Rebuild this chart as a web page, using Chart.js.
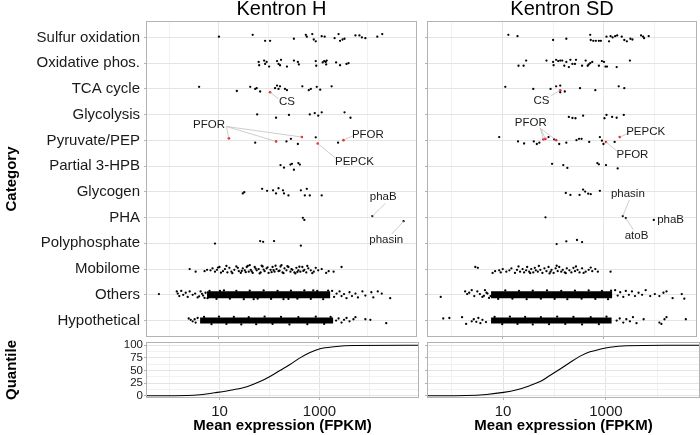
<!DOCTYPE html>
<html><head><meta charset="utf-8">
<script src="https://cdn.jsdelivr.net/npm/chart.js@4.4.1/dist/chart.umd.min.js"></script>
<style>
html,body{margin:0;padding:0;background:#fff;}
#wrap{position:relative;width:700px;height:435px;overflow:hidden;background:#fff;}
#wrap canvas{position:absolute;}
</style></head><body>
<div id="wrap">
<canvas id="cH" width="420" height="340" style="left:0;top:0"></canvas>
<canvas id="cSD" width="280" height="340" style="left:420px;top:0"></canvas>
<canvas id="qH" width="420" height="95" style="left:0;top:340px"></canvas>
<canvas id="qSD" width="280" height="95" style="left:420px;top:340px"></canvas>
</div>
<script>
// ---------------- DATA (x values are log10 of mean FPKM; second value = vertical jitter) ----------------
const categories = ['Sulfur oxidation','Oxidative phos.','TCA cycle','Glycolysis','Pyruvate/PEP','Partial 3-HPB','Glycogen','PHA','Polyphosphate','Mobilome','Others','Hypothetical'];
const panelTitles = ['Kentron H', 'Kentron SD'];
const xMajorTicks = [1, 3];
const xMajorLabels = ['10', '1000'];
const xMinorTicks = [0, 2, 4];
const quantileTicks = [0, 25, 50, 75, 100];
const quantileMinorTicks = [12.5, 37.5, 62.5, 87.5];

// ---- Kentron H ----
const H_sulfur = [[1.00,-0.03],[1.68,-0.10],[1.93,0.13],[2.03,0.13],[2.51,0.05],[2.75,-0.10],[2.77,-0.03],[2.88,-0.13],[2.91,0.08],[2.95,0.15],[3.07,-0.05],[3.13,-0.03],[3.33,0.03],[3.41,-0.13],[3.44,0.13],[3.49,0.08],[3.53,0.05],[3.75,-0.08],[3.83,-0.08],[3.88,0],[3.95,0.03],[4.19,-0.03],[4.29,-0.13]];
const H_oxphos = [[1.80,-0.05],[1.81,0.08],[1.91,-0.10],[1.93,0.03],[1.96,-0.05],[2.01,0.13],[2.17,-0.08],[2.20,0.03],[2.23,0.08],[2.25,-0.13],[2.37,0.13],[2.51,-0.10],[2.59,-0.05],[2.61,0.05],[2.95,-0.08],[2.96,0.10],[3.09,-0.03],[3.12,-0.08],[3.15,-0.05],[3.16,0.05],[3.17,-0.10],[3.36,-0.03],[3.44,0.08],[3.57,0.03],[3.61,0]];
const H_tca = [[0.60,-0.08],[1.36,0.08],[1.63,-0.08],[1.73,0],[1.76,-0.03],[1.83,0.10],[2.13,-0.03],[2.17,-0.13],[2.20,0],[2.23,-0.10],[2.33,0],[2.37,0.05],[2.68,-0.10],[2.81,0.05],[2.85,0],[2.97,-0.08],[3.04,0.03],[3.27,-0.10]];
const H_glycolysis = [[1.77,-0.01],[2.15,0.12],[2.41,0.01],[2.83,-0.01],[2.93,-0.06],[3.00,0.04],[3.07,-0.09],[3.53,-0.09],[3.65,0.12]];
const H_pyruvate = [[1.73,0.09],[2.36,0.04],[2.45,-0.06],[2.59,0.14],[2.95,-0.12],[3.40,0.09]];
const H_hpb = [[2.24,-0.04],[2.31,0.06],[2.44,-0.06],[2.47,-0.09],[2.51,0.14],[2.60,-0.12],[2.63,-0.06]];
const H_glycogen = [[1.48,0.06],[1.51,0.01],[1.87,-0.12],[1.97,-0.04],[2.09,-0.06],[2.15,0.06],[2.20,-0.14],[2.29,-0.06],[2.31,0.06],[2.40,0.14],[2.65,-0.06],[2.73,0.14],[2.77,-0.12],[2.83,0.14],[3.07,0.14]];
const H_pha = [[2.69,0.01],[2.72,0.09],[4.09,-0.06],[4.72,0.14]];
const H_polyP = [[0.92,0.01],[1.83,-0.09],[1.89,-0.06],[2.11,-0.09],[2.65,0.09]];
const H_mobilome = [[0.41,0],[0.53,0.10],[0.71,0.08],[0.76,0.03],[0.83,0.05],[0.87,-0.03],[0.92,0.10],[0.96,0.03],[1.01,-0.08],[1.08,0.08],[1.12,0],[1.17,0.13],[1.21,-0.05],[1.25,0.10],[1.31,0.03],[1.35,-0.10],[1.40,0.08],[1.44,0.15],[1.48,-0.03],[1.52,0.05],[1.56,-0.08],[1.60,0.10],[1.64,0.03],[1.68,0.15],[1.72,-0.08],[1.76,0.05],[1.80,0],[1.84,0.13],[1.88,-0.10],[1.92,0.08],[1.96,-0.03],[2.00,0.15],[2.04,0.03],[2.08,-0.08],[2.12,0.10],[2.16,0],[2.20,0.08],[2.24,-0.10],[2.28,0.13],[2.32,-0.03],[2.36,0.05],[2.40,-0.08],[2.44,0.10],[2.48,0.03],[2.52,0.13],[2.56,-0.05],[2.60,0.05],[2.64,0.10],[2.68,-0.08],[2.72,0.03],[2.76,0.13],[2.80,-0.03],[2.85,0.05],[2.91,0.10],[3.00,0.05],[3.07,0],[3.16,0.15],[3.21,0.08],[3.31,0.10],[3.47,-0.08],[1.15,-0.12],[1.27,0.16],[1.38,-0.05],[1.46,0.07],[1.58,-0.12],[1.66,0.09],[1.74,-0.02],[1.82,0.17],[1.90,0.02],[1.98,-0.07],[2.06,0.12],[2.14,-0.13],[2.22,0.06],[2.30,0.16],[2.38,-0.11],[2.46,0.0],[2.54,0.17],[2.62,-0.09],[2.70,0.07],[2.78,-0.12],[2.88,0.16],[2.95,-0.05],[1.04,0.14],[0.98,-0.06],[1.62,-0.15],[2.26,-0.15],[2.58,0.11],[2.10,0.04],[1.54,0.12],[1.86,-0.13]];
const H_others = [[-0.21,-0.03],[0.15,-0.13],[0.17,-0.05],[0.20,0.05],[0.24,-0.15],[0.28,0],[0.33,-0.08],[0.37,0.08],[0.41,-0.13],[0.47,0],[0.52,-0.05],[0.57,0.10],[0.63,-0.13],[0.68,0.03],[0.73,-0.08],[0.77,0.13],[0.81,-0.15],[3.28,-0.15],[3.32,0.08],[3.37,-0.05],[3.43,-0.13],[3.47,0.05],[3.52,-0.03],[3.57,0.13],[3.63,-0.10],[3.68,0.05],[3.75,-0.05],[3.80,0.10],[3.89,-0.13],[3.95,0.03],[4.07,-0.10],[4.11,0.10],[4.20,-0.13],[4.28,-0.05],[4.45,0.13],
  [0.95,0.16],[1.10,-0.17],[1.22,0.15],[1.35,-0.15],[1.50,0.17],[1.62,-0.16],[1.78,0.15],[1.90,-0.17],[2.05,0.16],[2.18,-0.15],[2.30,0.17],[2.45,-0.16],[2.58,0.15],[2.72,-0.17],[2.85,0.16],[2.98,-0.15],[3.10,0.17],[3.20,-0.16],[1.02,-0.15],[1.70,0.17],[2.40,0.16],[2.90,-0.17],
  [0.60,0.06],[0.66,-0.04],[0.71,0.12],[0.79,0.02]];
const H_hyp = [[0.39,-0.08],[0.43,-0.03],[0.47,0.03],[0.51,-0.05],[0.53,0.08],[0.57,-0.10],[3.36,0],[3.41,-0.08],[3.47,0.08],[3.52,-0.03],[3.57,-0.10],[3.63,0.03],[3.71,-0.05],[3.75,-0.13],[3.95,-0.05],[4.05,-0.03],[4.37,0.10],
  [0.70,-0.14],[0.85,0.14],[1.00,-0.15],[1.15,0.13],[1.30,-0.14],[1.45,0.15],[1.60,-0.13],[1.75,0.14],[1.92,-0.15],[2.08,0.13],[2.25,-0.14],[2.42,0.15],[2.60,-0.13],[2.78,0.14],[2.95,-0.15],[3.12,0.13],[3.25,-0.14]];
const H_coreOthers = [0.76, 3.24];   // dense core of the Others cloud
const H_coreHyp = [0.62, 3.30];      // dense core of the Hypothetical cloud
// highlighted (red) genes: [category index, log10 FPKM, jitter]
const H_red = [[2,2.03,0.13],[4,1.20,-0.08],[4,2.15,0.04],[4,2.67,-0.13],[4,2.99,0.12],[4,3.51,-0.01]];
const H_quantX = [-0.45,0.35,0.61,0.95,1.28,1.55,1.81,2.01,2.21,2.41,2.61,2.81,3.01,3.29,3.68,4.97];
const H_quantY = [0,0.5,2,6.6,12,18,28,38,50,62,75,85.5,93,97,99.5,100];

// ---- Kentron SD ----
const SD_sulfur = [[1.12,-0.10],[1.30,-0.05],[2.00,0.10],[2.26,0.05],[2.73,-0.10],[2.74,0.10],[2.79,0.13],[2.84,0.13],[2.90,0.13],[2.94,0.13],[3.05,-0.03],[3.10,0.15],[3.13,-0.05],[3.17,0],[3.22,-0.05],[3.26,-0.08],[3.35,-0.03],[3.40,0.10],[3.45,0.15],[3.52,0.05],[3.56,0.08],[3.73,-0.08],[3.77,-0.03],[3.79,0.03],[3.88,-0.05]];
const SD_oxphos = [[1.32,0.10],[1.42,0.10],[1.47,-0.10],[1.87,-0.10],[2.00,-0.05],[2.01,0.08],[2.06,-0.13],[2.10,-0.08],[2.14,-0.10],[2.18,-0.10],[2.22,0.10],[2.26,-0.05],[2.31,0.15],[2.34,-0.13],[2.38,0.03],[2.43,0.03],[2.45,-0.13],[2.57,0.10],[2.64,-0.10],[2.68,0.10],[2.70,0.05],[2.73,0],[2.77,-0.05],[2.90,0.10],[2.96,-0.08],[3.00,-0.05],[3.03,0.13],[3.06,0.13],[3.25,0.15],[3.51,-0.10]];
const SD_tca = [[1.06,-0.08],[1.61,0],[1.95,0],[2.06,-0.10],[2.14,-0.13],[2.14,0.13],[2.23,0.10],[2.53,-0.03],[2.83,0.05],[3.29,-0.10],[3.40,-0.03]];
const SD_glycolysis = [[2.31,0.09],[2.38,0.13],[2.44,0.14],[2.59,0.04],[3.01,0.14],[3.05,0.01],[3.16,0.09],[3.25,0.12],[3.39,0.01]];
const SD_pyruvate = [[0.94,-0.13],[1.31,0.04],[1.43,0.12],[1.62,0.04],[1.68,0.14],[1.73,0.09],[1.91,-0.13],[2.02,-0.04],[2.12,0.14],[2.26,0.09],[2.46,-0.01],[2.51,-0.06],[2.56,-0.06],[2.71,0.06],[2.92,-0.13],[2.96,0.01],[2.99,0.14],[3.21,0.06]];
const SD_hpb = [[1.98,-0.09],[2.20,-0.04],[2.28,0.07],[2.87,-0.12],[2.90,-0.07],[3.04,-0.04],[3.27,0.09]];
const SD_glycogen = [[2.25,0.04],[2.34,0.12],[2.52,0.12],[2.59,-0.09],[2.63,-0.01],[2.69,0.07],[2.74,0.09],[2.92,-0.04]];
const SD_pha = [[1.85,-0.01],[3.37,-0.06],[3.43,0.02],[3.98,0.09]];
const SD_polyP = [[2.07,0.03],[2.26,-0.08],[2.47,-0.13],[2.57,-0.05]];
const SD_mobilome = [[0.47,-0.08],[0.52,-0.05],[0.81,0.15],[0.86,0.08],[0.94,0.05],[0.97,0.13],[1.01,0],[1.08,0.10],[1.14,0.05],[1.18,-0.03],[1.25,0.15],[1.29,0.03],[1.35,0.10],[1.40,0],[1.43,0.13],[1.47,0.05],[1.49,-0.08],[1.53,0.10],[1.57,0],[1.61,0.13],[1.64,-0.05],[1.66,0.05],[1.70,0.10],[1.75,0.03],[1.79,0.15],[1.83,-0.03],[1.87,0.08],[1.91,-0.08],[1.95,0.10],[1.97,0.03],[2.01,0.15],[2.05,-0.03],[2.09,0.08],[2.12,-0.08],[2.16,0.10],[2.19,0.03],[2.23,0.13],[2.27,-0.03],[2.32,0.05],[2.36,0.13],[2.40,-0.05],[2.43,0.08],[2.48,0.03],[2.52,0.13],[2.57,-0.03],[2.64,0.10],[2.70,0.03],[2.77,0.08],[2.83,0],[2.88,0.10],[3.13,0.10],[1.32,-0.10],[1.55,0.16],[1.72,-0.12],[1.93,0.17],[2.07,-0.13],[2.25,0.16],[2.45,-0.10],[2.60,0.15],[2.74,-0.06]];
const SD_others = [[-0.21,0.08],[0.27,-0.13],[0.31,-0.03],[0.35,-0.08],[0.40,-0.18],[0.45,0.05],[0.51,-0.13],[0.56,-0.03],[0.61,0.08],[0.66,-0.18],[0.71,-0.05],[0.77,0.05],[3.22,-0.18],[3.27,0.03],[3.32,-0.10],[3.38,0.08],[3.43,-0.15],[3.49,0],[3.55,-0.13],[3.61,0.05],[3.68,-0.08],[3.75,0],[3.82,-0.18],[3.91,0.05],[4.00,-0.03],[4.09,0.05],[4.17,-0.08],[4.23,-0.13],[4.35,0.13],[4.53,-0.03],[4.58,0.15],
  [0.92,0.16],[1.06,-0.17],[1.20,0.15],[1.33,-0.15],[1.48,0.17],[1.60,-0.16],[1.76,0.15],[1.88,-0.17],[2.03,0.16],[2.16,-0.15],[2.28,0.17],[2.43,-0.16],[2.56,0.15],[2.70,-0.17],[2.83,0.16],[2.96,-0.15],[3.08,0.17],[3.14,-0.16],
  [0.64,0.04],[0.69,-0.08],[0.74,0.12]];
const SD_hyp = [[-0.16,-0.08],[-0.04,-0.10],[0.21,-0.13],[0.29,0.13],[0.40,0.03],[0.44,-0.05],[0.49,0.05],[0.53,-0.10],[0.57,0.10],[0.61,-0.03],[0.68,0.06],[3.25,0],[3.31,-0.08],[3.38,0.08],[3.44,-0.05],[3.51,0.03],[3.57,-0.13],[3.64,0.10],[3.78,-0.05],[4.09,0.08],[4.13,0.13],[4.19,-0.05],[4.23,-0.13],[4.61,-0.05],
  [0.85,-0.14],[1.00,0.14],[1.15,-0.15],[1.30,0.13],[1.45,-0.14],[1.60,0.15],[1.76,-0.13],[1.92,0.14],[2.08,-0.15],[2.24,0.13],[2.40,-0.14],[2.57,0.15],[2.74,-0.13],[2.90,0.14],[3.05,-0.15]];
const SD_coreOthers = [0.78, 3.16];
const SD_coreHyp = [0.78, 3.15];
const SD_red = [[2,2.14,0.05],[4,1.81,-0.04],[4,1.85,-0.06],[4,2.06,-0.01],[4,3.04,0.06],[4,3.31,-0.13]];
const SD_quantX = [-0.46,0.29,0.68,1.01,1.27,1.52,1.72,1.91,2.11,2.30,2.49,2.69,2.88,3.08,3.40,4.18,4.81];
const SD_quantY = [0,0.5,2.6,6.6,12,20,28,40,53,66,78,87,92,96,99,100,100];

// gene labels (text position, leader line end, and labelled gene location)
const H_notes = [
  {text:'CS', tx:2.37, ty:2.49, end:[2.20,2.38], from:[[2.03,2.13]]},
  {text:'PFOR', tx:0.80, ty:3.40, end:[1.15,3.46], from:[[1.20,3.92],[2.15,4.04],[2.67,3.87]]},
  {text:'PFOR', tx:4.00, ty:3.78, end:[3.69,3.83], from:[[3.51,3.99]]},
  {text:'PEPCK', tx:3.73, ty:4.84, end:[3.35,4.69], from:[[2.99,4.12]]},
  {text:'phaB', tx:4.31, ty:6.21, end:[4.35,6.45], from:[[4.09,6.94]]},
  {text:'phasin', tx:4.37, ty:7.87, end:[4.48,7.64], from:[[4.72,7.14]]}
];
const SD_notes = [
  {text:'CS', tx:1.77, ty:2.46, end:[1.95,2.28], from:[[2.14,2.05]]},
  {text:'PFOR', tx:1.56, ty:3.31, end:[1.75,3.53], from:[[1.81,3.96],[1.85,3.94],[2.06,3.99]]},
  {text:'PEPCK', tx:3.82, ty:3.66, end:[3.50,3.71], from:[[3.31,3.87]]},
  {text:'PFOR', tx:3.56, ty:4.57, end:[3.27,4.44], from:[[3.04,4.06]]},
  {text:'phasin', tx:3.47, ty:6.08, end:[3.50,6.32], from:[[3.37,6.94]]},
  {text:'atoB', tx:3.64, ty:7.72, end:[3.58,7.48], from:[[3.43,7.02]]},
  {text:'phaB', tx:4.31, ty:7.08, end:null, from:[]}
];

// ---------------- RENDERING ----------------
Chart.defaults.font.family = '"Liberation Sans", Arial, Helvetica, sans-serif';
Chart.defaults.color = '#1a1a1a';
const FONT = '"Liberation Sans", Arial, Helvetica, sans-serif';
const BORDER = '#b3b3b3';
const GRID_MAJOR = '#e4e4e4';
const GRID_MINOR = '#f1f1f1';

const panelDecor = {
  id: 'panelDecor',
  afterDatasetsDraw(chart, args, opts) {
    const {ctx, scales: {x, y}} = chart;
    (opts.notes || []).forEach(n => {
      ctx.save();
      ctx.strokeStyle = '#b8b8b8';
      ctx.lineWidth = 0.7;
      if (n.end) n.from.forEach(p => {
        ctx.beginPath();
        ctx.moveTo(x.getPixelForValue(p[0]), y.getPixelForValue(p[1]));
        ctx.lineTo(x.getPixelForValue(n.end[0]), y.getPixelForValue(n.end[1]));
        ctx.stroke();
      });
      ctx.fillStyle = '#1a1a1a';
      ctx.font = '11.5px ' + FONT;
      ctx.textAlign = 'center';
      ctx.textBaseline = 'middle';
      ctx.fillText(n.text, x.getPixelForValue(n.tx), y.getPixelForValue(n.ty));
      ctx.restore();
    });
  },
  afterDraw(chart, args, opts) {
    const {ctx, chartArea: a} = chart;
    ctx.save();
    ctx.strokeStyle = BORDER;
    ctx.lineWidth = 1;
    ctx.strokeRect(a.left - 0.5, a.top - 0.5, a.right - a.left + 1, a.bottom - a.top + 1);
    if (opts.title) {
      ctx.fillStyle = '#000';
      ctx.font = '20px ' + FONT;
      ctx.textAlign = 'center';
      ctx.textBaseline = 'alphabetic';
      ctx.fillText(opts.title, (a.left + a.right) / 2, 15);
    }
    ctx.restore();
  }
};

function rowPoints(rows) {
  const pts = [];
  rows.forEach((r, i) => r.forEach(([v, j]) => pts.push({x: v, y: i + j})));
  return pts;
}
const xAllTicks = [...xMinorTicks, ...xMajorTicks].sort((a, b) => a - b);
function xLabel(v) { const k = xMajorTicks.indexOf(v); return k >= 0 ? xMajorLabels[k] : ''; }
const isMajorX = v => xMajorTicks.includes(v);

function xScale(min, max, withLabels) {
  const s = {
    type: 'linear', min, max,
    afterBuildTicks: sc => { sc.ticks = xAllTicks.map(v => ({value: v})); },
    grid: {
      color: c => isMajorX(c.tick.value) ? GRID_MAJOR : GRID_MINOR,
      tickColor: c => isMajorX(c.tick.value) ? BORDER : 'rgba(0,0,0,0)',
      tickLength: 3, lineWidth: 1
    },
    border: {display: false},
    ticks: {display: withLabels, autoSkip: false, maxRotation: 0, callback: v => xLabel(v),
            font: {size: 15}, color: '#1a1a1a', padding: 3}
  };
  if (withLabels) {
    s.title = {display: true, text: 'Mean expression (FPKM)', font: {size: 15, weight: 'bold'}, color: '#000', padding: {top: 0, bottom: 0}};
  }
  s.afterFit = sc => { sc.height = withLabels ? 38 : 4; sc.paddingLeft = 0; sc.paddingRight = 0; };
  return s;
}

function topPanel(id, rows, red, coreO, coreH, notes, title, xr, isLeft) {
  const y = {
    type: 'linear', min: -0.6, max: 11.6, reverse: true,
    afterBuildTicks: sc => { sc.ticks = categories.map((c, i) => ({value: i})); },
    grid: {color: GRID_MAJOR, tickColor: BORDER, tickLength: 3},
    border: {display: false},
    ticks: {display: isLeft, autoSkip: false, callback: v => categories[v], font: {size: 15}, color: '#1a1a1a', padding: 4},
    afterFit: sc => { sc.width = isLeft ? 147 : 8; sc.paddingTop = 0; sc.paddingBottom = 0; }
  };
  if (isLeft) y.title = {display: true, text: 'Category', font: {size: 15, weight: 'bold'}, color: '#000', padding: {top: 3, bottom: 0}};
  new Chart(document.getElementById(id), {
    type: 'scatter',
    data: {datasets: [
      {label: 'highlighted', data: red.map(([c, v, j]) => ({x: v, y: c + j})), backgroundColor: '#e8222a', pointRadius: 1.3, borderWidth: 0, order: 0},
      {label: 'genes', data: rowPoints(rows), backgroundColor: '#000', pointRadius: 1.15, borderWidth: 0, order: 1},
      {label: 'Others core', data: [{x: coreO[0], y: 10}, {x: coreO[1], y: 10}], showLine: true, borderColor: '#000', borderWidth: 7, borderCapStyle: 'butt', pointRadius: 0, order: 2},
      {label: 'Hypothetical core', data: [{x: coreH[0], y: 11}, {x: coreH[1], y: 11}], showLine: true, borderColor: '#000', borderWidth: 6, borderCapStyle: 'butt', pointRadius: 0, order: 2}
    ]},
    options: {
      responsive: false, animation: false, events: [],
      layout: {padding: {top: 22, right: isLeft ? 2 : 1, left: 0, bottom: 0}},
      plugins: {legend: {display: false}, tooltip: {enabled: false}, panelDecor: {title, notes}},
      scales: {x: xScale(xr[0], xr[1], false), y}
    },
    plugins: [panelDecor]
  });
}

function quantPanel(id, qx, qy, xr, isLeft) {
  const qAll = [...quantileTicks, ...quantileMinorTicks].sort((a, b) => a - b);
  const y = {
    type: 'linear', min: -2.5, max: 104.5,
    afterBuildTicks: sc => { sc.ticks = qAll.map(v => ({value: v})); },
    grid: {
      color: c => quantileTicks.includes(c.tick.value) ? GRID_MAJOR : GRID_MINOR,
      tickColor: c => quantileTicks.includes(c.tick.value) ? BORDER : 'rgba(0,0,0,0)',
      tickLength: 3
    },
    border: {display: false},
    ticks: {display: isLeft, autoSkip: false, callback: v => quantileTicks.includes(v) ? String(v) : '', font: {size: 11.5}, color: '#1a1a1a', padding: 1},
    afterFit: sc => { sc.width = isLeft ? 147 : 8; sc.paddingTop = 0; sc.paddingBottom = 0; }
  };
  if (isLeft) y.title = {display: true, text: 'Quantile', font: {size: 15, weight: 'bold'}, color: '#000', padding: {top: 3, bottom: 0}};
  new Chart(document.getElementById(id), {
    type: 'scatter',
    data: {datasets: [{label: 'quantile', data: qx.map((v, i) => ({x: v, y: qy[i]})), showLine: true, borderColor: '#000', borderWidth: 1.1, pointRadius: 0, cubicInterpolationMode: 'monotone'}]},
    options: {
      responsive: false, animation: false, events: [],
      layout: {padding: {top: 3, right: isLeft ? 2 : 1, left: 0, bottom: 0}},
      plugins: {legend: {display: false}, tooltip: {enabled: false}, panelDecor: {}},
      scales: {x: xScale(xr[0], xr[1], true), y}
    },
    plugins: [panelDecor]
  });
}

topPanel('cH', [H_sulfur, H_oxphos, H_tca, H_glycolysis, H_pyruvate, H_hpb, H_glycogen, H_pha, H_polyP, H_mobilome, H_others, H_hyp],
  H_red, H_coreOthers, H_coreHyp, H_notes, panelTitles[0], [-0.45, 4.97], true);
topPanel('cSD', [SD_sulfur, SD_oxphos, SD_tca, SD_glycolysis, SD_pyruvate, SD_hpb, SD_glycogen, SD_pha, SD_polyP, SD_mobilome, SD_others, SD_hyp],
  SD_red, SD_coreOthers, SD_coreHyp, SD_notes, panelTitles[1], [-0.46, 4.81], false);
quantPanel('qH', H_quantX, H_quantY, [-0.45, 4.97], true);
quantPanel('qSD', SD_quantX, SD_quantY, [-0.46, 4.81], false);
</script>
</body></html>
